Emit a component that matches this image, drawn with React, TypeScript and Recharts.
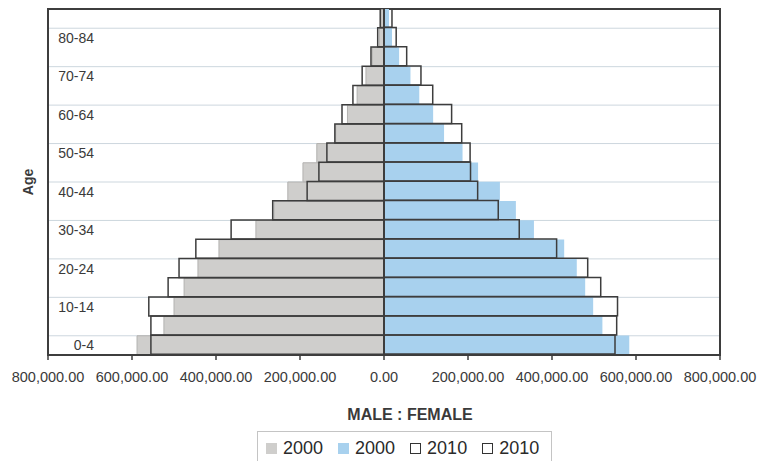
import React from 'react';
import {
  BarChart,
  Bar,
  XAxis,
  YAxis,
  CartesianGrid,
  ReferenceLine,
  ReferenceArea,
  Legend,
} from 'recharts';

const ageGroups = ['0-4', '5-9', '10-14', '15-19', '20-24', '25-29', '30-34', '35-39', '40-44', '45-49', '50-54', '55-59', '60-64', '65-69', '70-74', '75-79', '80-84', '85+'];
const male2000 = [588000, 524000, 500000, 476000, 443000, 393000, 305000, 262000, 229000, 193000, 160000, 115000, 87000, 64000, 43000, 28000, 11000, 7000];
const male2010 = [555000, 555000, 560000, 514000, 488000, 448000, 364000, 265000, 183000, 155000, 136000, 117000, 100000, 74000, 52000, 31000, 15000, 9000];
const female2000 = [584000, 520000, 498000, 479000, 459000, 429000, 357000, 314000, 276000, 224000, 187000, 143000, 117000, 84000, 63000, 36000, 19000, 12000];
const female2010 = [550000, 554000, 556000, 516000, 485000, 411000, 322000, 272000, 223000, 206000, 205000, 185000, 161000, 116000, 88000, 54000, 29000, 19000];
const xTicks = [-800000, -600000, -400000, -200000, 0, 200000, 400000, 600000, 800000];
const legendItems = [
  { label: '2000', kind: 'grey' },
  { label: '2000', kind: 'blue' },
  { label: '2010', kind: 'open' },
  { label: '2010', kind: 'open' },
];

const data = ageGroups.map((age, i) => ({
  age,
  m2000: -male2000[i],
  f2000: female2000[i],
  m2010: -male2010[i],
  f2010: female2010[i],
}));

const FONT = '"Liberation Sans", Arial, sans-serif';
const GREY = '#cfcecc';
const BLUE = '#a8d1ee';
const DARK = '#3d3d3d';

const fmt = (v: number) =>
  Math.abs(v).toLocaleString('en-US', { minimumFractionDigits: 2, maximumFractionDigits: 2 });

const YTick = (props: any) => {
  const { x, y, payload } = props;
  return (
    <text x={x + 46} y={y} dy="0.36em" textAnchor="end" fontSize={14} fill="#3a3a3a" fontFamily={FONT}>
      {payload.value}
    </text>
  );
};

const TitleLabel = (props: any) => {
  const vb = props.viewBox || {};
  return (
    <text
      x={vb.x + vb.width / 2 + 26}
      y={vb.y + 65}
      textAnchor="middle"
      fontSize={16}
      fontWeight="bold"
      fill="#3a3a3a"
      fontFamily={FONT}
    >
      MALE : FEMALE
    </text>
  );
};

const LegendBox = () => (
  <div
    style={{
      border: '1px solid #c4c4c4',
      display: 'flex',
      alignItems: 'center',
      padding: '6px 10px 10px 8px',
      fontFamily: FONT,
      fontSize: 18,
      color: '#2a2a2a',
      background: '#fff',
      boxSizing: 'border-box',
      width: 295,
    }}
  >
    {legendItems.map((it, i) => (
      <div key={i} style={{ display: 'flex', alignItems: 'center', marginRight: i < legendItems.length - 1 ? 15 : 0 }}>
        <span
          style={{
            display: 'inline-block',
            width: it.kind === 'open' ? 9 : 11,
            height: it.kind === 'open' ? 9 : 11,
            background: it.kind === 'grey' ? GREY : it.kind === 'blue' ? BLUE : '#fff',
            border: it.kind === 'open' ? '1px solid #333' : 'none',
            marginRight: 6,
          }}
        />
        <span>{it.label}</span>
      </div>
    ))}
  </div>
);

export default function App() {
  return (
    <BarChart
      width={752}
      height={453}
      data={data}
      layout="vertical"
      barCategoryGap={0}
      barGap="-100%"
      margin={{ top: 1, right: 40, left: 0, bottom: 36 }}
    >
      <CartesianGrid
        vertical={false}
        stroke="#cdd7de"
        horizontalCoordinatesGenerator={({ offset }: any) => {
          const res: number[] = [];
          for (let j = 1; j < ageGroups.length; j += 2) {
            res.push(offset.top + (offset.height * j) / ageGroups.length);
          }
          return res;
        }}
      />
      <XAxis
        type="number"
        domain={[-800000, 800000]}
        ticks={xTicks}
        allowDataOverflow
        tickFormatter={fmt}
        tick={{ fontSize: 14.5, fill: '#3a3a3a', fontFamily: FONT }}
        tickSize={5}
        tickMargin={12}
        axisLine={{ stroke: DARK, strokeWidth: 2 }}
        tickLine={{ stroke: DARK, strokeWidth: 1.5 }}
        height={70}
        label={<TitleLabel />}
      />
      <YAxis
        type="category"
        dataKey="age"
        reversed
        interval={1}
        width={40}
        tickSize={0}
        tickMargin={0}
        axisLine={false}
        tick={<YTick />}
        label={{
          value: 'Age',
          angle: -90,
          position: 'center',
          style: { fontSize: 14, fontWeight: 'bold', fill: '#3a3a3a', fontFamily: FONT },
        }}
      />
      <Bar dataKey="m2000" fill={GREY} stroke="#b3b2b0" strokeWidth={1} isAnimationActive={false} />
      <Bar dataKey="f2000" fill={BLUE} isAnimationActive={false} />
      <Bar dataKey="m2010" fill="none" stroke={DARK} strokeWidth={1.5} isAnimationActive={false} />
      <Bar dataKey="f2010" fill="none" stroke={DARK} strokeWidth={1.5} isAnimationActive={false} />
      <ReferenceLine x={0} stroke={DARK} strokeWidth={2} />
      <ReferenceArea x1={-800000} x2={800000} fill="none" stroke={DARK} strokeWidth={2} fillOpacity={0} />
      <Legend
        layout="vertical"
        align="center"
        verticalAlign="middle"
        wrapperStyle={{ top: 423, left: 249, width: 295 }}
        content={() => <LegendBox />}
      />
    </BarChart>
  );
}
